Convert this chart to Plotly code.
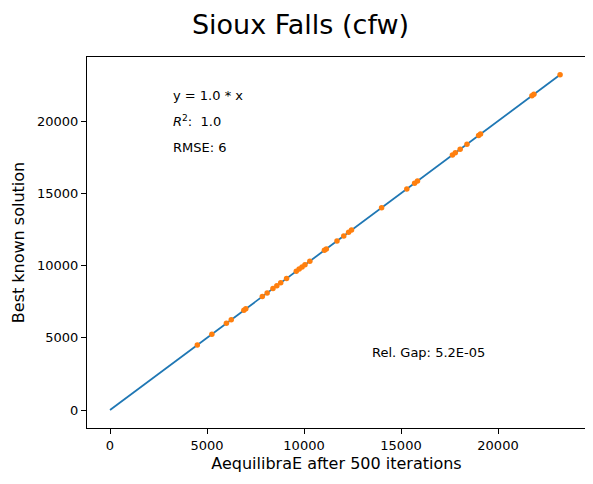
import plotly.graph_objects as go

aeq = [4500,5250,6000,6250,6900,7000,7850,8100,8400,8600,8800,9100,9600,9750,9900,10050,10300,11050,11150,11700,12050,12300,12450,14000,15300,15700,15850,17650,17800,18050,18400,19000,19100,21750,21850,23200]
best = [4500,5250,6000,6250,6900,7000,7850,8100,8400,8600,8800,9100,9600,9750,9900,10050,10300,11050,11150,11700,12050,12300,12450,14000,15300,15700,15850,17650,17800,18050,18400,19000,19100,21750,21850,23200]
fit_x = [0, 23200]
fit_y = [0, 23200]
ticks = [0, 5000, 10000, 15000, 20000]
tick_labels = ["0", "5000", "10000", "15000", "20000"]

fig = go.Figure()
fig.add_trace(go.Scatter(x=fit_x, y=fit_y, mode="lines", line=dict(color="#1f77b4", width=1.8)))
fig.add_trace(go.Scatter(x=aeq, y=best, mode="markers", marker=dict(color="#ff7f0e", size=5.5)))

ann = [(3150, 21800, "y = 1.0 * x"), (3150, 20000, "<i>R</i><sup>2</sup>:  1.0"),
       (3150, 18200, "RMSE: 6"), (13400, 3950, "Rel. Gap: 5.2E-05")]
for x, y, t in ann:
    fig.add_annotation(x=x, y=y, text=t, showarrow=False, xanchor="left", yanchor="middle",
                       font=dict(size=13, color="black"))

ax = dict(showgrid=False, zeroline=False, showline=True, mirror=True, linecolor="black", linewidth=1,
          ticks="outside", ticklen=5, tickcolor="black", tickfont=dict(size=13, color="black"),
          automargin=False, tickvals=ticks, ticktext=tick_labels)
fig.update_xaxes(**ax, range=[-1186, 24536],
                 title=dict(text="AequilibraE after 500 iterations", font=dict(size=16, color="black"), standoff=6))
fig.update_yaxes(**ax, range=[-1246, 24430],
                 title=dict(text="Best known solution", font=dict(size=16, color="black"), standoff=8))
fig.update_layout(width=585, height=476, showlegend=False, plot_bgcolor="white", paper_bgcolor="white",
                  font=dict(family="DejaVu Sans"),
                  title=dict(text="Sioux Falls (cfw)", x=0.5, xanchor="center", y=0.965, yanchor="middle",
                             font=dict(size=27, color="black"), automargin=False),
                  margin=dict(l=79, r=7, t=49, b=56))
fig.write_html("out.html")
